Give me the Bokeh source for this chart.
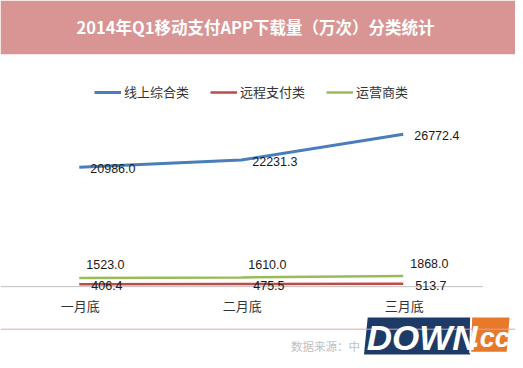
from bokeh.plotting import figure
from bokeh.models import Range1d, BoxAnnotation, Label, Span, Legend, LegendItem, ColumnDataSource
from bokeh.core.properties import value
from bokeh.embed import file_html
from bokeh.resources import INLINE

# ---- data ----
categories = ["一月底", "二月底", "三月底"]
online = [20986.0, 22231.3, 26772.4]     # 线上综合类
remote = [406.4, 475.5, 513.7]           # 远程支付类
carrier = [1523.0, 1610.0, 1868.0]       # 运营商类
series_names = ["线上综合类", "远程支付类", "运营商类"]
title_text = "2014年Q1移动支付APP下载量（万次）分类统计"
source_text = "数据来源：中"

# ---- layout constants (pixels in a 523x368 design space) ----
W, H = 515, 360
REF_W, REF_H = 523, 368
X0_PX, DX_PX = 80.0, 164.5      # design pixel of first category, step
Y0_PX, SY = 292.5, 0.00582      # design pixel of value 0, pixels per unit

def x_at(px):
    return (px - X0_PX) / DX_PX

def y_at(px):
    return (Y0_PX - px) / SY

CJK = "Noto Sans CJK SC"
NUM = "Liberation Sans"

p = figure(width=W, height=H, output_backend="svg", toolbar_location=None,
           x_range=Range1d(x_at(0), x_at(REF_W)), y_range=Range1d(y_at(REF_H), y_at(0)),
           x_axis_type=None, y_axis_type=None, min_border=0,
           outline_line_color=None, background_fill_color="white",
           border_fill_color="white")
p.grid.visible = False

# banner
p.add_layout(BoxAnnotation(bottom=y_at(55), fill_color="#D99594", fill_alpha=1,
                           line_color=None, level="underlay"))
p.add_layout(Label(x=x_at(259), y=y_at(27), text=title_text, text_align="center",
                   text_baseline="middle", text_color="white", text_font=CJK,
                   text_font_style="bold", text_font_size="16.5px"))

xs = list(range(len(categories)))
src = ColumnDataSource(dict(x=xs, cat=categories, online=online, remote=remote,
                            carrier=carrier,
                            online_lbl=[f"{v:.1f}" for v in online],
                            remote_lbl=[f"{v:.1f}" for v in remote],
                            carrier_lbl=[f"{v:.1f}" for v in carrier]))

# axis line
p.segment(x0=x_at(0), x1=x_at(490), y0=0, y1=0, line_color="#BFBFBF", line_width=1)

# lines
r_online = p.line("x", "online", source=src, line_color="#4A7EBB", line_width=3)
r_remote = p.line("x", "remote", source=src, line_color="#BE4B48", line_width=2.5)
r_carrier = p.line("x", "carrier", source=src, line_color="#9BBB59", line_width=2.5)

# data labels
common = dict(source=src, text_font=value(NUM), text_font_size="12.5px",
              text_color="#1a1a1a", text_baseline="middle", text_align="left")
p.text(x="x", y="online", text="online_lbl", x_offset=11, y_offset=1, **common)
p.text(x="x", y="remote", text="remote_lbl", x_offset=12, y_offset=1.5, **common)
p.text(x="x", y="carrier", text="carrier_lbl", x_offset=7, y_offset=-13, **common)

# category labels
p.text(x="x", y=0, text="cat", source=src, x_offset=1, y_offset=18.5,
       text_align="center", text_baseline="middle", text_font=value(CJK),
       text_font_size="13px", text_color="#333333")

# legend
legend = Legend(items=[LegendItem(label=series_names[0], renderers=[r_online]),
                       LegendItem(label=series_names[1], renderers=[r_remote]),
                       LegendItem(label=series_names[2], renderers=[r_carrier])],
                orientation="horizontal", location=(94, 259),
                label_text_font=CJK, label_text_font_size="13px",
                label_text_color="#333333", glyph_width=27, glyph_height=14,
                label_height=14, label_standoff=3, spacing=21, padding=0, margin=0,
                border_line_color=None, background_fill_alpha=0)
p.add_layout(legend, "center")

# bottom rule and source
p.add_layout(Span(location=y_at(336), dimension="width", line_color="#E8A3A3",
                  line_width=1))
p.add_layout(Label(x=x_at(295), y=y_at(353), text=source_text, text_baseline="middle",
                   text_font=CJK, text_font_size="11.5px", text_color="#C0C0C0"))

# watermark
p.patch(x=[x_at(372), x_at(479), x_at(478), x_at(368)],
        y=[y_at(323), y_at(323), y_at(363), y_at(363)],
        fill_color="#1E3A66", line_color="white", line_width=2)
p.patch(x=[x_at(478), x_at(518), x_at(515), x_at(477)],
        y=[y_at(323), y_at(323), y_at(360), y_at(360)],
        fill_color="#E8782A", line_color="white", line_width=2)
p.add_layout(Label(x=x_at(372), y=y_at(344), text="DOWN", text_baseline="middle",
                   text_font="Liberation Sans", text_font_style="bold italic",
                   text_font_size="35px", text_color="white"))
p.add_layout(Label(x=x_at(479), y=y_at(345), text=".cc", text_baseline="middle",
                   text_font="Liberation Sans", text_font_style="bold italic",
                   text_font_size="27px", text_color="white"))

open("out.html", "w").write(file_html(p, INLINE))
